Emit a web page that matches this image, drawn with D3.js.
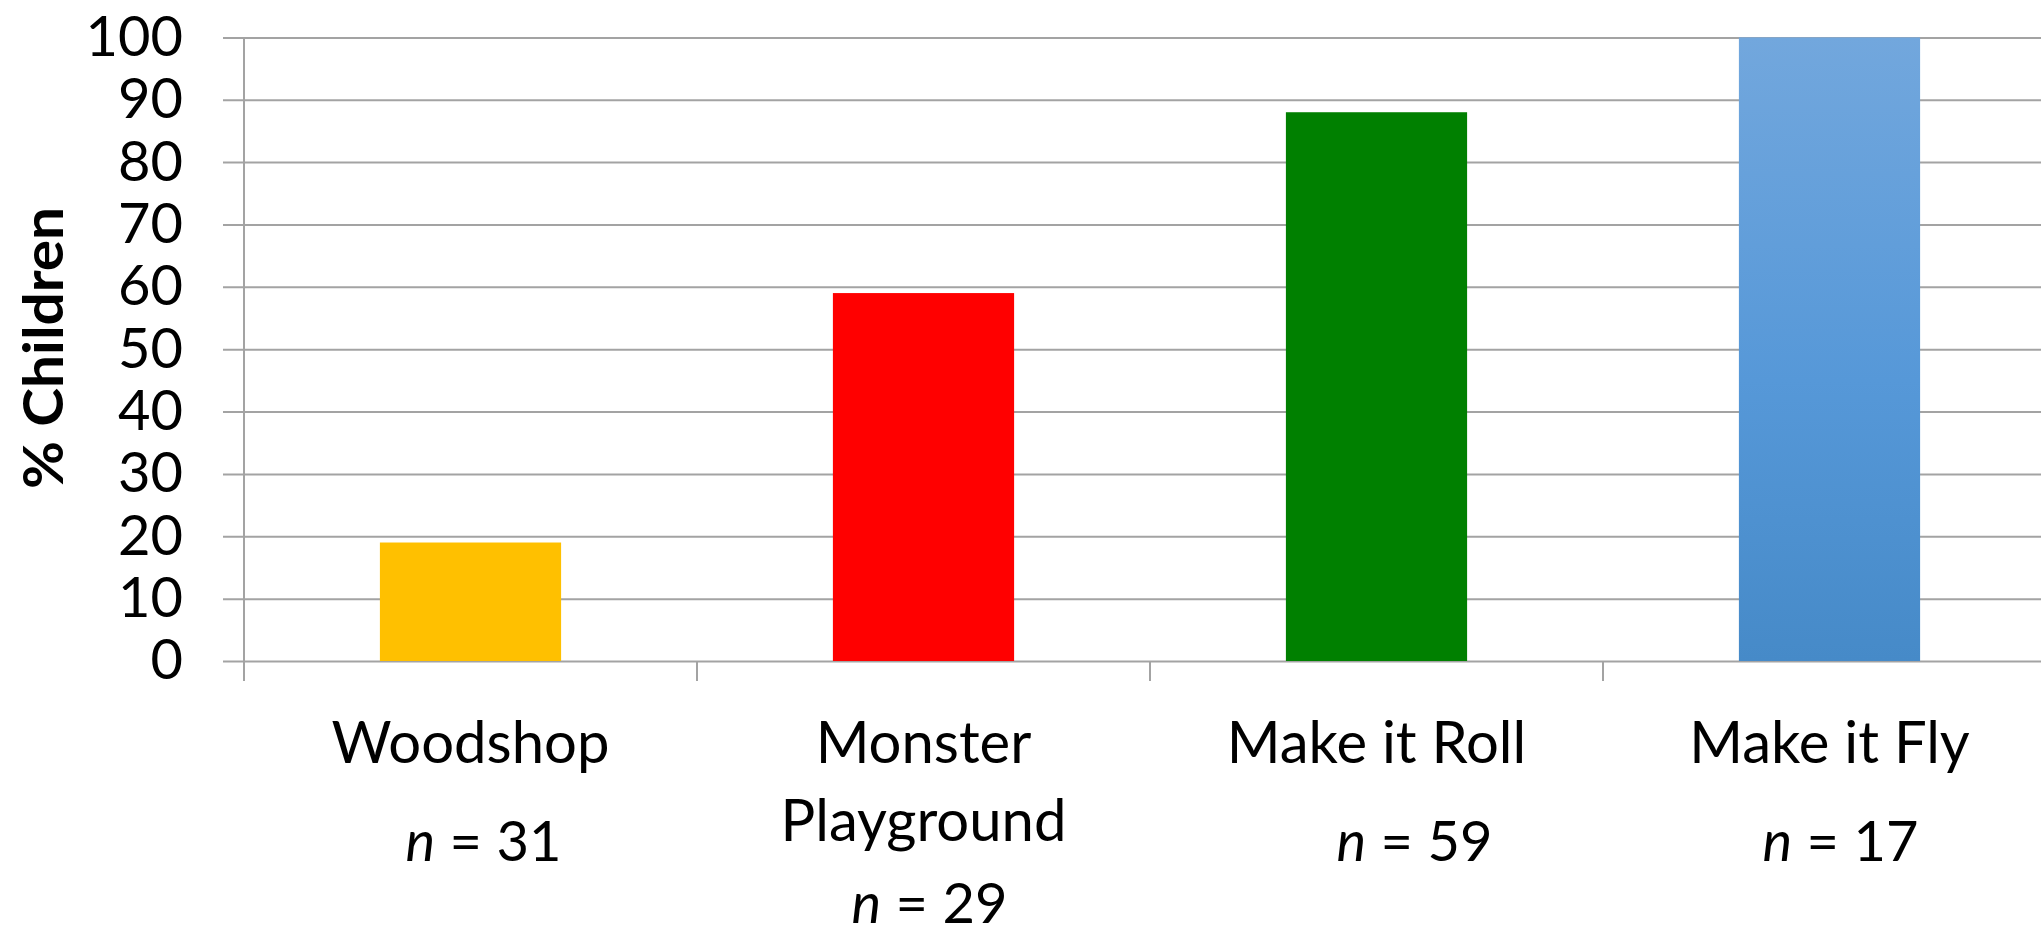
<!DOCTYPE html>
<html>
<head>
<meta charset="utf-8">
<script src="https://cdn.jsdelivr.net/npm/d3@7"></script>
<style>
  html, body { margin: 0; padding: 0; background: #ffffff; }
  svg { display: block; }
  text { font-family: Lato, "Open Sans", "DejaVu Sans", sans-serif; fill: #000; }
</style>
</head>
<body>
<svg id="chart" width="2041" height="936"></svg>
<script>
// Workshop activities and the share of children for each
const categories = ["Woodshop", "Monster\nPlayground", "Make it Roll", "Make it Fly"];
const sampleSizes = [31, 29, 59, 17];
const percentChildren = [19, 59, 88, 100];
const barColors = ["#FFC000", "#FF0000", "#008000", "url(#flyGradient)"];
const yTicks = [0, 10, 20, 30, 40, 50, 60, 70, 80, 90, 100];
const yTitle = "% Children";

// Layout
const W = 2041, H = 936;
const plot = { left: 244, right: 2056, top: 37.4, bottom: 661 };
const nLineShift = [13, 6, 38, 11];

const svg = d3.select("#chart");

// Gradient for the last bar
const defs = svg.append("defs");
const grad = defs.append("linearGradient")
  .attr("id", "flyGradient").attr("x1", 0).attr("y1", 0).attr("x2", 0).attr("y2", 1);
grad.append("stop").attr("offset", "0%").attr("stop-color", "#72a7dd");
grad.append("stop").attr("offset", "55%").attr("stop-color", "#5698d8");
grad.append("stop").attr("offset", "100%").attr("stop-color", "#468ac8");

const x = d3.scaleBand()
  .domain(categories)
  .range([plot.left, plot.right])
  .paddingInner(0.6)
  .paddingOuter(0.3);

const y = d3.scaleLinear()
  .domain([0, 100])
  .range([plot.bottom, plot.top]);

const gridColor = "#a3a3a3";

// Horizontal gridlines with ticks crossing out to the left
const yAxis = d3.axisLeft(y)
  .tickValues(yTicks)
  .tickSize(-(plot.right - plot.left))
  .tickSizeOuter(0)
  .tickPadding(0)
  .tickFormat("");

const gy = svg.append("g")
  .attr("transform", `translate(${plot.left},0)`)
  .call(yAxis);
gy.select(".domain").remove();
gy.selectAll(".tick line")
  .attr("x1", -21)
  .attr("stroke", gridColor)
  .attr("stroke-width", 2);

// Y tick labels
svg.append("g").selectAll("text")
  .data(yTicks)
  .join("text")
  .attr("x", 183)
  .attr("y", d => y(d))
  .attr("dy", "0.33em")
  .attr("text-anchor", "end")
  .style("font-size", "56px")
  .text(d => d);

// Bars
svg.append("g").selectAll("rect")
  .data(categories)
  .join("rect")
  .attr("x", d => x(d))
  .attr("width", x.bandwidth())
  .attr("y", (d, i) => y(percentChildren[i]))
  .attr("height", (d, i) => y(0) - y(percentChildren[i]))
  .attr("fill", (d, i) => barColors[i]);

// Vertical axis line
svg.append("line")
  .attr("x1", plot.left).attr("x2", plot.left)
  .attr("y1", plot.top).attr("y2", plot.bottom + 20)
  .attr("stroke", gridColor).attr("stroke-width", 2);

// Category boundary ticks below the baseline
const step = x.step();
const boundaries = d3.range(1, categories.length).map(i => plot.left + i * step);
svg.append("g").selectAll("line")
  .data(boundaries)
  .join("line")
  .attr("x1", d => d).attr("x2", d => d)
  .attr("y1", plot.bottom).attr("y2", plot.bottom + 20)
  .attr("stroke", gridColor).attr("stroke-width", 2);

// Category labels with sample sizes
const labelSize = 58;
const firstBaseline = 763, lineGap = 78, nGap = 98, nExtra = 62;
const labels = svg.append("g");
categories.forEach((c, i) => {
  const cx = x(c) + x.bandwidth() / 2;
  const lines = c.split("\n");
  lines.forEach((ln, j) => {
    labels.append("text")
      .attr("x", cx)
      .attr("y", firstBaseline + j * lineGap)
      .attr("text-anchor", "middle")
      .style("font-size", labelSize + "px")
      .text(ln);
  });
  const nt = labels.append("text")
    .attr("x", cx + nLineShift[i])
    .attr("y", firstBaseline + nGap + (lines.length - 1) * nExtra)
    .attr("text-anchor", "middle")
    .style("font-size", "56px");
  nt.append("tspan").style("font-style", "italic").text("n");
  nt.append("tspan").text(" = " + sampleSizes[i]);
});

// Y axis title
svg.append("text")
  .attr("transform", "translate(63,348) rotate(-90)")
  .attr("text-anchor", "middle")
  .attr("textLength", 282)
  .attr("lengthAdjust", "spacingAndGlyphs")
  .style("font-size", "56px")
  .style("font-weight", "bold")
  .text(yTitle);
</script>
</body>
</html>
